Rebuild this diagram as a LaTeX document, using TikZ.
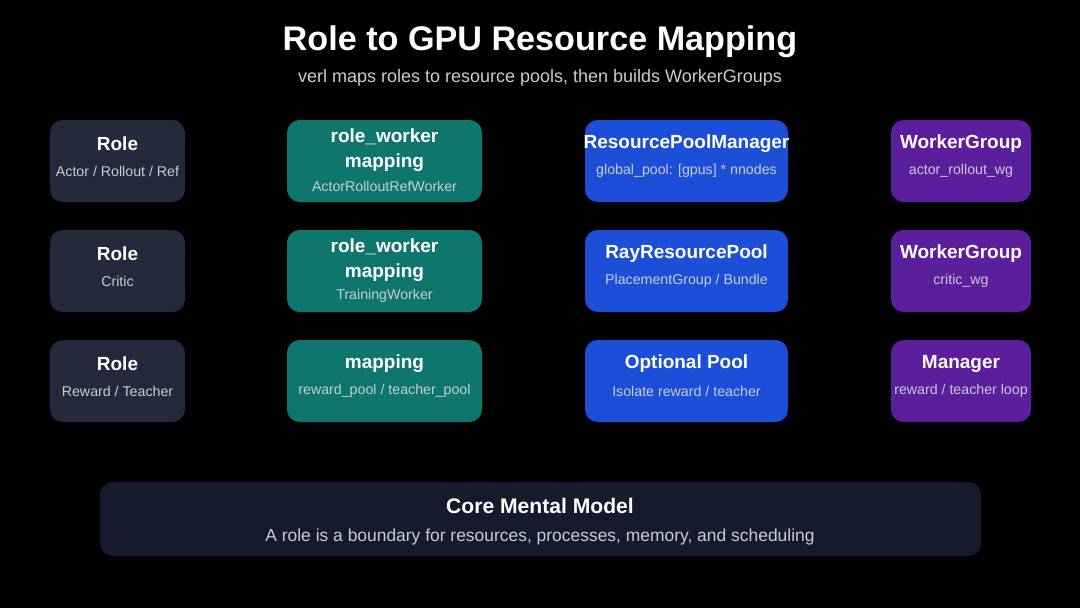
\documentclass[tikz,border=0pt]{standalone}
\usepackage{fontspec}
\setmainfont{Liberation Sans}
\usetikzlibrary{calc}
\definecolor{bgBlack}{HTML}{000000}
\definecolor{roleGrey}{HTML}{242A3C}
\definecolor{mapTeal}{HTML}{0F766E}
\definecolor{poolBlue}{HTML}{1D4ED8}
\definecolor{groupPurple}{HTML}{5B1F9E}
\definecolor{coreNavy}{HTML}{151A2C}
\definecolor{subGrey}{HTML}{C8CCD6}
\tikzset{
	box/.style={rounded corners=9pt, inner sep=0pt},
	boxTitle/.style={text=white, font=\fontsize{13.5}{18}\selectfont\bfseries, align=center},
	boxSub/.style={text=subGrey, font=\fontsize{10.1}{12}\selectfont},
}
% box: name, left, top, width, colour, title, sub, title-y offset, sub-y offset
\newcommand{\mapBox}[9]{
	\fill [box, #5] (#2,#3) rectangle ++(#4,82);
	\node [boxTitle] (#1Title) at ({#2+#4/2},{#3+#8}) {#6};
	\node [boxSub] (#1Sub) at ({#2+#4/2},{#3+#9}) {#7};
}
\begin{document}
\begin{tikzpicture}[x=0.025cm, y=-0.025cm]

	% background
	\fill [bgBlack] (0,0) rectangle (1080,608);
	\useasboundingbox (0,0) rectangle (1080,608);

	% heading
	\node [text=white, font=\fontsize{24.3}{28}\selectfont\bfseries] (title) at (540,42) {Role to GPU Resource Mapping};
	\node [text=subGrey, font=\fontsize{12.8}{15}\selectfont] (subtitle) at (540,78) {verl maps roles to resource pools, then builds WorkerGroups};

	% roles
	\mapBox{roleA}{50}{120}{135}{roleGrey}{Role}{Actor / Rollout / Ref}{24}{51}
	\mapBox{roleB}{50}{230}{135}{roleGrey}{Role}{Critic}{24}{51}
	\mapBox{roleC}{50}{340}{135}{roleGrey}{Role}{Reward / Teacher}{24}{51}

	% mappings
	\mapBox{mapA}{287}{120}{195}{mapTeal}{role\_worker\\mapping}{ActorRolloutRefWorker}{30}{66}
	\mapBox{mapB}{287}{230}{195}{mapTeal}{role\_worker\\mapping}{TrainingWorker}{30}{66}
	\mapBox{mapC}{287}{340}{195}{mapTeal}{mapping}{reward\_pool / teacher\_pool}{24}{51}

	% pools
	\mapBox{poolA}{585}{120}{203}{poolBlue}{ResourcePoolManager}{global\_pool: [gpus] * nnodes}{24}{51}
	\mapBox{poolB}{585}{230}{203}{poolBlue}{RayResourcePool}{PlacementGroup / Bundle}{24}{51}
	\mapBox{poolC}{585}{340}{203}{poolBlue}{Optional Pool}{Isolate reward / teacher}{24}{51}

	% worker groups
	\mapBox{groupA}{891}{120}{140}{groupPurple}{WorkerGroup}{actor\_rollout\_wg}{24}{51}
	\mapBox{groupB}{891}{230}{140}{groupPurple}{WorkerGroup}{critic\_wg}{24}{51}
	\mapBox{groupC}{891}{340}{140}{groupPurple}{Manager}{reward / teacher loop}{24}{51}

	% core model
	\fill [box, coreNavy] (100,482) rectangle (981,556);
	\node [boxTitle, font=\fontsize{15}{18}\selectfont\bfseries] (coreTitle) at (540,506) {Core Mental Model};
	\node [text=subGrey, font=\fontsize{12.4}{14}\selectfont] (coreSub) at (540,537) {A role is a boundary for resources, processes, memory, and scheduling};

\end{tikzpicture}
\end{document}
